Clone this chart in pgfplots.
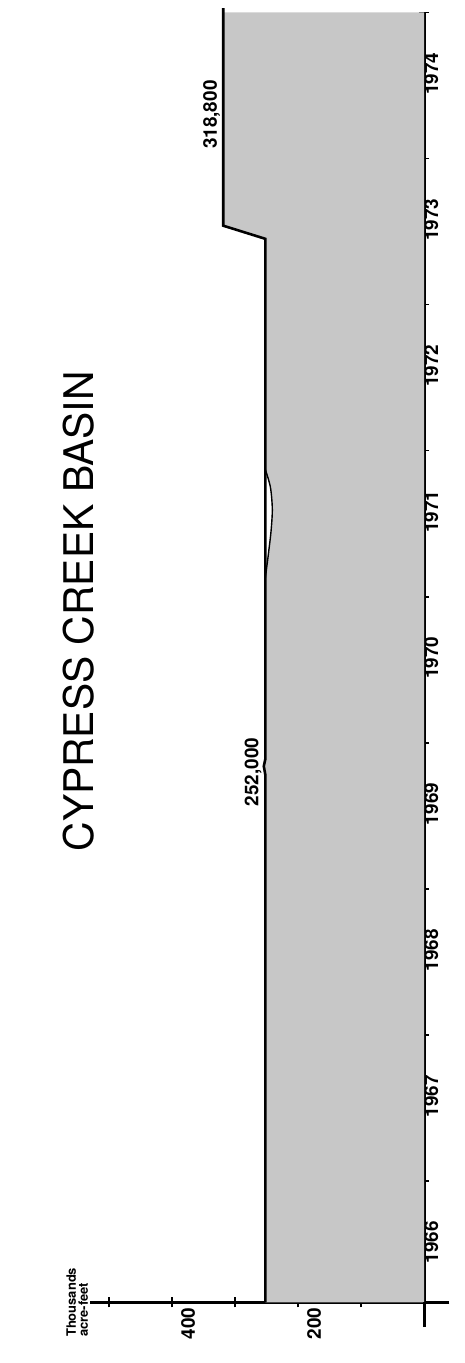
\documentclass[border=0pt]{standalone}
\usepackage{pgfplots}
\pgfplotsset{compat=1.18}
\usepackage{fontspec}
\setmainfont{TeX Gyre Heros}
\begin{document}
\begin{tikzpicture}
\begin{axis}[
  x=0.633pt, y=146.7pt,
  x dir=reverse,
  xmin=-40, xmax=530,
  ymin=1966.17, ymax=1975.0,
  axis y line=center, axis x line=bottom,
  every inner x axis line/.append style={-},
  every outer x axis line/.append style={-},
  every inner y axis line/.append style={-},
  every outer y axis line/.append style={-},
  axis line style={line width=2.8pt, black},
  ytick={1967,1968,...,1975}, yticklabels={},
  extra y ticks={1966.5,1967.5,...,1974.5},
  extra y tick labels={1966,1967,1968,1969,1970,1971,1972,1973,1974},
  extra y tick style={major tick length=0pt},
  xtick={100,200,300,400,500}, xticklabels={,200,,400,},
  tick align=center, major tick length=10pt,
  tick style={line width=1.6pt, black},
  yticklabel style={font=\fontsize{19}{19}\selectfont\bfseries, rotate=90, anchor=north, inner sep=0pt, xshift=12pt},
  xticklabel style={font=\fontsize{19}{19}\selectfont\bfseries, rotate=90, anchor=east, inner sep=0pt, yshift=-16pt},
  /pgf/number format/assume math mode=true,
  clip=false,
]
\path (axis cs:-63.2,1965.755) rectangle (axis cs:673,1975.046);
\addplot[draw=none, fill=black!22] coordinates {(0,1966.17) (252,1966.17) (252,1969.78) (254,1969.84) (252,1969.89) (252,1971.13) (247,1971.3) (243,1971.45) (241,1971.6) (244,1971.75) (252,1971.87) (252,1973.45) (318.8,1973.54) (318.8,1975.0) (0,1975.0)};
\addplot[black, line width=2.6pt] coordinates {(252,1966.17) (252,1969.78) (254.5,1969.84) (252,1969.89) (252,1973.45) (318.8,1973.54) (318.8,1975.03)};
\addplot[black, line width=1.4pt, smooth] coordinates {(252,1971.13) (247,1971.3) (243,1971.45) (241,1971.6) (244,1971.75) (252,1971.87)};
\draw[line width=2.8pt] (axis cs:0,1966.0) -- (axis cs:0,1966.17);
\node[rotate=90, anchor=south, font=\fontsize{19}{19}\selectfont\bfseries, inner sep=1pt] at (axis cs:256,1969.8) {252,000};
\node[rotate=90, anchor=south, font=\fontsize{19}{19}\selectfont\bfseries, inner sep=1pt] at (axis cs:322,1974.3) {318,800};
\node[rotate=90, font=\fontsize{41}{41}\selectfont] at (axis cs:548,1970.9) {CYPRESS CREEK BASIN};
\node[rotate=90, anchor=south, align=left, font=\fontsize{13}{12}\selectfont\bfseries, inner sep=2pt] at (axis cs:530,1966.17) {Thousands\\acre-feet};
\end{axis}
\end{tikzpicture}
\end{document}
